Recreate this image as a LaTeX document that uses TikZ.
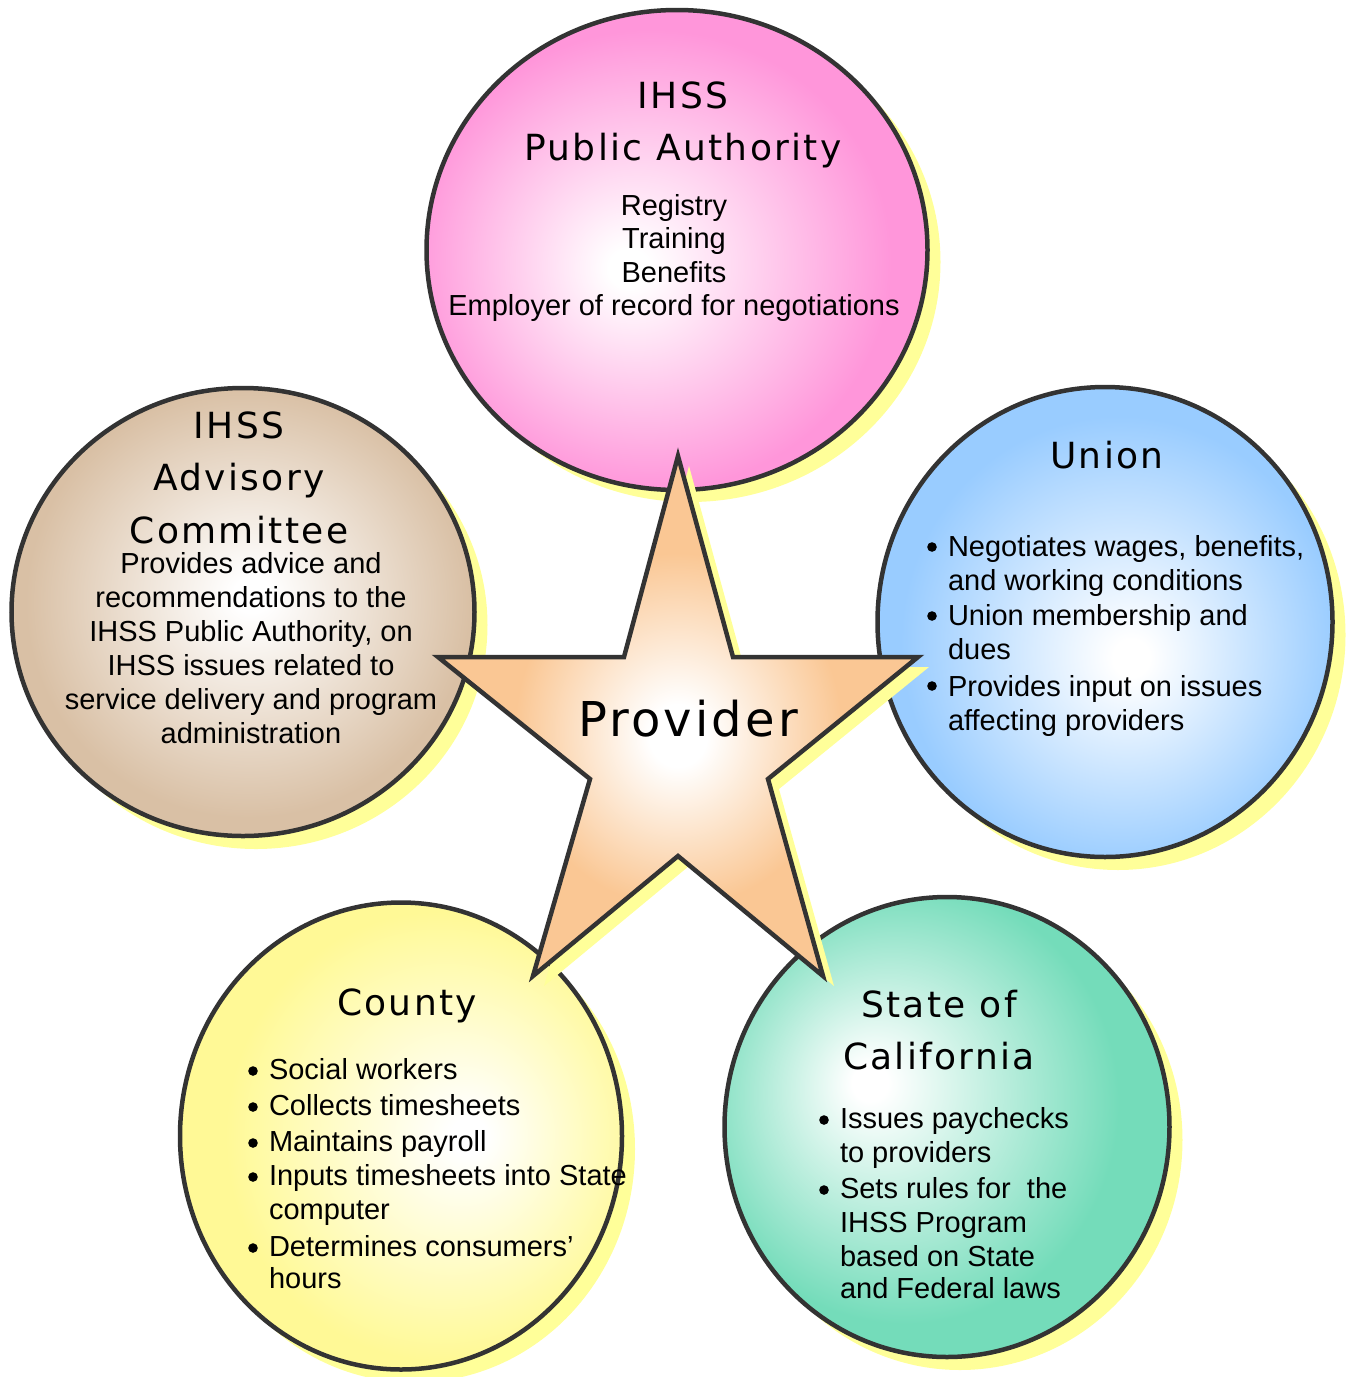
\documentclass[tikz,border=0pt]{standalone}
\usepackage{fontspec}
\setmainfont{Liberation Sans}
\newfontfamily\titlefont[LetterSpace=6.5]{DejaVu Sans}
\usetikzlibrary{shapes.geometric}

\definecolor{bordc}{HTML}{333333}
\definecolor{shadc}{HTML}{FFFF99}
\definecolor{pinkc}{HTML}{FF96DA}
\definecolor{tanc}{HTML}{D9C0A5}
\definecolor{bluec}{HTML}{99CCFF}
\definecolor{yelc}{HTML}{FFF996}
\definecolor{greenc}{HTML}{74DCBA}
\definecolor{peachc}{HTML}{FAC794}

\pgfdeclareradialshading{pinkshade}{\pgfpoint{-5bp}{-2bp}}{color(0bp)=(white); color(2bp)=(white); color(24bp)=(pinkc); color(50bp)=(pinkc)}
\pgfdeclareradialshading{tanshade}{\pgfpoint{1bp}{2bp}}{color(0bp)=(white); color(2bp)=(white); color(24bp)=(tanc); color(50bp)=(tanc)}
\pgfdeclareradialshading{blueshade}{\pgfpoint{3bp}{-4bp}}{color(0bp)=(white); color(2bp)=(white); color(24bp)=(bluec); color(50bp)=(bluec)}
\pgfdeclareradialshading{yelshade}{\pgfpoint{8bp}{0bp}}{color(0bp)=(white); color(2bp)=(white); color(24bp)=(yelc); color(50bp)=(yelc)}
\pgfdeclareradialshading{greenshade}{\pgfpoint{-9bp}{5bp}}{color(0bp)=(white); color(2bp)=(white); color(24bp)=(greenc); color(50bp)=(greenc)}
\pgfdeclareradialshading{starshade}{\pgfpoint{0bp}{-2bp}}{color(0bp)=(white); color(3bp)=(white); color(17bp)=(peachc); color(50bp)=(peachc)}

\newcommand\bodyf{\fontsize{29}{34}\selectfont}
\newcommand\ttlf{\titlefont\fontsize{36}{52.5}\selectfont}
\newcommand\bul{\makebox[23pt]{}}

\begin{document}
\begin{tikzpicture}[x=1pt,y=-1pt,
  circ/.style={ellipse, draw=bordc, line width=4.5pt, inner sep=0pt, shade},
  shad/.style={ellipse, fill=shadc, inner sep=0pt},
  txt/.style={inner sep=0pt, outer sep=0pt},
  bulletdot/.style={fill=black},
]
\fill[white] (0,0) rectangle (1348,1377);
\useasboundingbox (0,0) rectangle (1348,1377);

% IHSS Public Authority
\node[shad, minimum width=501pt, minimum height=480pt] (paS) at (690,262) {};
\node[circ, shading=pinkshade, minimum width=501pt, minimum height=480pt] (pa) at (677,250) {};
% Advisory committee
\node[shad, minimum width=463pt, minimum height=448pt] (acS) at (256,625) {};
\node[circ, shading=tanshade, minimum width=463pt, minimum height=448pt] (ac) at (243,612) {};
% Union
\node[shad, minimum width=455pt, minimum height=470pt] (unS) at (1118,635) {};
\node[circ, shading=blueshade, minimum width=455pt, minimum height=470pt] (un) at (1105,622) {};
% County
\node[shad, minimum width=442pt, minimum height=467pt] (coS) at (414,1149) {};
\node[circ, shading=yelshade, minimum width=442pt, minimum height=467pt] (co) at (401,1136) {};
% State
\node[shad, minimum width=445pt, minimum height=460pt] (stS) at (960,1140) {};
\node[circ, shading=greenshade, minimum width=445pt, minimum height=460pt] (st) at (947,1127) {};

% Star
\fill[shadc, shift={(11,10)}] (678,456) -- (733,657) -- (918,657) -- (768,779) -- (823,976) -- (678,856) -- (533,976) -- (590,779) -- (438,657) -- (624,657) -- cycle;
\path[draw=bordc, line width=4.5pt, shade, shading=starshade] (678,456) -- (733,657) -- (918,657) -- (768,779) -- (823,976) -- (678,856) -- (533,976) -- (590,779) -- (438,657) -- (624,657) -- cycle;

% Texts
\node[txt, anchor=base] (paT) at (683,108) {\ttlf\begin{tabular}[t]{@{}c@{}}IHSS\\Public Authority\end{tabular}};
\node[txt, anchor=base] (paB) at (674,215) {\fontsize{29}{33.5}\selectfont\begin{tabular}[t]{@{}c@{}}Registry\\Training\\Benefits\\Employer of record for negotiations\end{tabular}};

\node[txt, anchor=base] (acT) at (239,438) {\ttlf\begin{tabular}[t]{@{}c@{}}IHSS\\Advisory\\Committee\end{tabular}};
\node[txt, anchor=base] (acB) at (251,573) {\bodyf\begin{tabular}[t]{@{}c@{}}Provides advice and\\recommendations to the\\IHSS Public Authority, on\\IHSS issues related to\\service delivery and program\\administration\end{tabular}};

\node[txt, anchor=base] (unT) at (1107,468) {\ttlf Union};
\node[txt, anchor=base west] (unB) at (925,556) {\bodyf\begin{tabular}[t]{@{}l@{}l@{}}\bul & Negotiates wages, benefits,\\ & and working conditions\\[1.5pt] \bul & Union membership and\\ & dues\\[2.5pt] \bul & Provides input on issues\\ & affecting providers\end{tabular}};
\foreach \by in {547,616,686} \fill[bulletdot] (932,\by) circle (4.8pt);

\node[txt, anchor=base] (coT) at (407,1015) {\ttlf County};
\node[txt, anchor=base west] (coB) at (246,1079) {\bodyf\begin{tabular}[t]{@{}l@{}l@{}}\bul & Social workers\\[2pt] \bul & Collects timesheets\\[2pt] \bul & Maintains payroll\\ \bul & Inputs timesheets into State\\ & computer\\[3pt] \bul & Determines consumers’\\[-2pt] & hours\end{tabular}};
\foreach \by in {1071,1107,1143,1177,1248} \fill[bulletdot] (253,\by) circle (4.8pt);

\node[txt, anchor=base] (stT) at (939,1017) {\ttlf\begin{tabular}[t]{@{}c@{}}State of\\California\end{tabular}};
\node[txt, anchor=base west] (stB) at (817,1128) {\bodyf\begin{tabular}[t]{@{}l@{}l@{}}\bul & Issues paychecks\\ & to providers\\[2pt] \bul & Sets rules for\ \ the\\ & IHSS Program\\ & based on State\\[-1.5pt] & and Federal laws\end{tabular}};
\foreach \by in {1120,1190} \fill[bulletdot] (824,\by) circle (4.8pt);

\node[txt, anchor=base] (pr) at (688,736) {\titlefont\fontsize{48}{56}\selectfont Provider};
\end{tikzpicture}
\end{document}
